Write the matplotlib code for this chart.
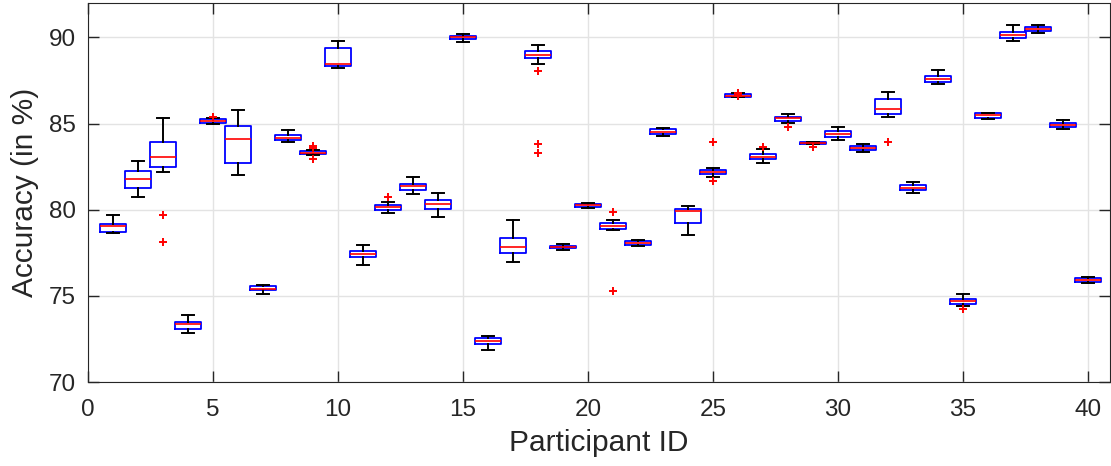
import matplotlib.pyplot as plt

plt.rcParams['font.family'] = ['Liberation Sans', 'DejaVu Sans']

# per-participant box statistics
participant = list(range(1, 41))
q1 = [78.71, 81.29, 82.49, 73.10, 85.06, 82.72, 75.33, 84.04, 83.22, 88.33,
      77.26, 80.01, 81.13, 80.07, 89.90, 72.19, 77.46, 88.78, 77.75, 80.16,
      78.89, 77.98, 84.38, 79.22, 82.06, 86.55, 82.93, 85.16, 83.80, 84.21,
      83.44, 85.56, 81.17, 87.42, 74.55, 85.35, 89.98, 90.37, 84.79, 75.81]
med = [79.04, 81.77, 83.05, 73.35, 85.14, 84.10, 75.42, 84.17, 83.32, 88.47,
       77.43, 80.13, 81.35, 80.36, 90.02, 72.38, 77.86, 88.99, 77.84, 80.26,
       79.04, 78.07, 84.52, 79.93, 82.18, 86.63, 83.07, 85.30, 83.86, 84.40,
       83.57, 85.85, 81.29, 87.60, 74.70, 85.47, 90.17, 90.48, 84.91, 75.91]
q3 = [79.20, 82.24, 83.94, 73.48, 85.24, 84.85, 75.56, 84.33, 83.40, 89.40,
      77.61, 80.26, 81.52, 80.59, 90.09, 72.58, 78.34, 89.20, 77.90, 80.36,
      79.23, 78.17, 84.69, 80.05, 82.31, 86.69, 83.22, 85.39, 83.92, 84.58,
      83.69, 86.43, 81.44, 87.77, 74.84, 85.59, 90.33, 90.60, 85.04, 76.02]
whislo = [78.65, 80.71, 82.20, 72.85, 85.00, 82.02, 75.13, 83.92, 83.17, 88.24,
          76.82, 79.80, 80.92, 79.58, 89.74, 71.88, 76.95, 88.45, 77.65, 80.10,
          78.81, 77.90, 84.29, 78.56, 81.90, 86.52, 82.72, 85.04, 83.79, 84.05,
          83.36, 85.39, 81.00, 87.31, 74.41, 85.26, 89.80, 90.27, 84.66, 75.75]
whishi = [79.68, 82.83, 85.35, 73.89, 85.31, 85.80, 75.62, 84.64, 83.44, 89.79,
          77.94, 80.46, 81.90, 80.98, 90.21, 72.65, 79.41, 89.57, 78.01, 80.40,
          79.39, 78.25, 84.75, 80.22, 82.45, 86.75, 83.50, 85.55, 83.96, 84.79,
          83.79, 86.84, 81.61, 88.12, 75.09, 85.64, 90.75, 90.75, 85.21, 76.10]
outliers = {3: [79.72, 78.10], 5: [85.39], 9: [83.70, 83.59, 82.97],
            12: [80.74], 18: [88.06, 83.82, 83.32], 21: [79.84, 75.31],
            25: [83.96, 81.67], 26: [86.80, 86.72, 86.58], 27: [83.65],
            28: [84.81], 29: [83.65], 32: [83.94], 35: [74.26]}
xticks = list(range(0, 41, 5))
yticks = list(range(70, 91, 5))

stats = []
for i, p in enumerate(participant):
    stats.append(dict(med=med[i], q1=q1[i], q3=q3[i], whislo=whislo[i],
                      whishi=whishi[i], fliers=outliers.get(p, [])))

fig = plt.figure(figsize=(11.11, 4.66), dpi=100)
ax = fig.add_axes([88 / 1111, 84 / 466, 1022 / 1111, 379 / 466])

ax.bxp(stats, positions=participant, widths=1.05, capwidths=0.5,
       manage_ticks=False,
       boxprops=dict(color='blue', linewidth=1.3),
       medianprops=dict(color='red', linewidth=1.2),
       whiskerprops=dict(color='black', linewidth=1.4),
       capprops=dict(color='black', linewidth=1.4),
       flierprops=dict(marker='+', markeredgecolor='red', markersize=6,
                       markeredgewidth=1.4, linestyle='none'))

ax.set_xlim(0, 40.88)
ax.set_ylim(70, 92)
ax.set_xticks(xticks)
ax.set_xticklabels([str(t) for t in xticks])
ax.set_yticks(yticks)
ax.grid(True, color='#e3e3e3', linewidth=1)
ax.set_axisbelow(True)
ax.tick_params(direction='in', top=True, right=True, length=8,
               labelsize=17.5, colors='#262626', width=1)
ax.tick_params(axis='x', pad=12)
ax.tick_params(axis='y', pad=9)
for s in ax.spines.values():
    s.set_color('#262626')
ax.set_xlabel('Participant ID', fontsize=21.5, color='#262626')
ax.set_ylabel('Accuracy (in %)', fontsize=21.5, color='#262626')
ax.xaxis.set_label_coords(0.5, -0.125)
ax.yaxis.set_label_coords(-0.048, 0.5)

fig.savefig('out.png', dpi=100)
